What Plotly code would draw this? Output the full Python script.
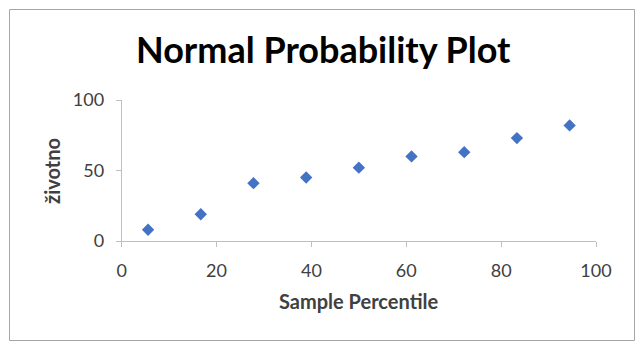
import plotly.graph_objects as go

W, H = 644, 349

# Data
sample_percentile = [5.56, 16.67, 27.78, 38.89, 50.0, 61.11, 72.22, 83.33, 94.44]
zivotno = [8, 19, 41, 45, 52, 60, 63, 73, 82]
x_ticks = [0, 20, 40, 60, 80, 100]
y_ticks = [0, 50, 100]

title_text = "Normal Probability Plot"
x_title = "Sample Percentile"
y_title = "životno"

FONT = "Lato"
AXIS_COLOR = "#BFBFBF"
TEXT_COLOR = "#404040"

# plot area in pixels
px0, px1 = 121.7, 596.0
py_top, py_bot = 100.0, 241.0

fig = go.Figure()
fig.add_trace(go.Scatter(
    x=sample_percentile, y=zivotno, mode="markers",
    marker=dict(symbol="diamond", size=9.5, color="#4472C4",
                line=dict(width=0)),
    showlegend=False, hoverinfo="x+y",
))

fig.update_layout(
    width=W, height=H, autosize=False,
    margin=dict(l=0, r=0, t=0, b=0, pad=0, autoexpand=False),
    paper_bgcolor="white", plot_bgcolor="white",
    xaxis=dict(
        domain=[px0 / W, px1 / W], range=[0, 100],
        tickvals=x_ticks, ticktext=[str(v) for v in x_ticks],
        showgrid=False, zeroline=False, showline=True,
        linecolor=AXIS_COLOR, linewidth=1,
        ticks="outside", ticklen=5, tickcolor=AXIS_COLOR,
        tickfont=dict(family=FONT, size=18, color=TEXT_COLOR),
        ticklabelstandoff=8, automargin=False,
        fixedrange=True,
    ),
    yaxis=dict(
        domain=[1 - py_bot / H, 1 - py_top / H], range=[0, 100],
        tickvals=y_ticks, ticktext=[str(v) for v in y_ticks],
        showgrid=False, zeroline=False, showline=True,
        linecolor=AXIS_COLOR, linewidth=1,
        ticks="outside", ticklen=5, tickcolor=AXIS_COLOR,
        tickfont=dict(family=FONT, size=18, color=TEXT_COLOR),
        ticklabelstandoff=8, automargin=False,
        fixedrange=True,
    ),
    shapes=[dict(
        type="rect", xref="paper", yref="paper",
        x0=9.5 / W, x1=634.5 / W, y0=1 - 340.5 / H, y1=1 - 9.5 / H,
        line=dict(color="#A6A6A6", width=1), fillcolor="rgba(0,0,0,0)",
        layer="below",
    )],
    annotations=[
        dict(text="<b>" + title_text + "</b>", xref="paper", yref="paper",
             x=323 / W, y=1 - 49 / H, showarrow=False, xanchor="center", yanchor="middle",
             font=dict(family=FONT, size=36, color="#000000")),
        dict(text="<b>" + x_title + "</b>", xref="paper", yref="paper",
             x=358 / W, y=1 - 301 / H, showarrow=False, xanchor="center", yanchor="middle",
             font=dict(family=FONT, size=20, color=TEXT_COLOR)),
        dict(text="<b>" + y_title + "</b>", xref="paper", yref="paper",
             x=52 / W, y=1 - 171 / H, showarrow=False, xanchor="center", yanchor="middle",
             textangle=-90,
             font=dict(family=FONT, size=20, color=TEXT_COLOR)),
    ],
)

post = ("document.documentElement.style.margin='0';"
        "document.body.style.margin='0';"
        "document.body.style.padding='0';"
        "document.documentElement.style.overflow='hidden';"
        "document.body.style.overflow='hidden';")

fig.write_html("out.html", post_script=post, config={"displayModeBar": False})
